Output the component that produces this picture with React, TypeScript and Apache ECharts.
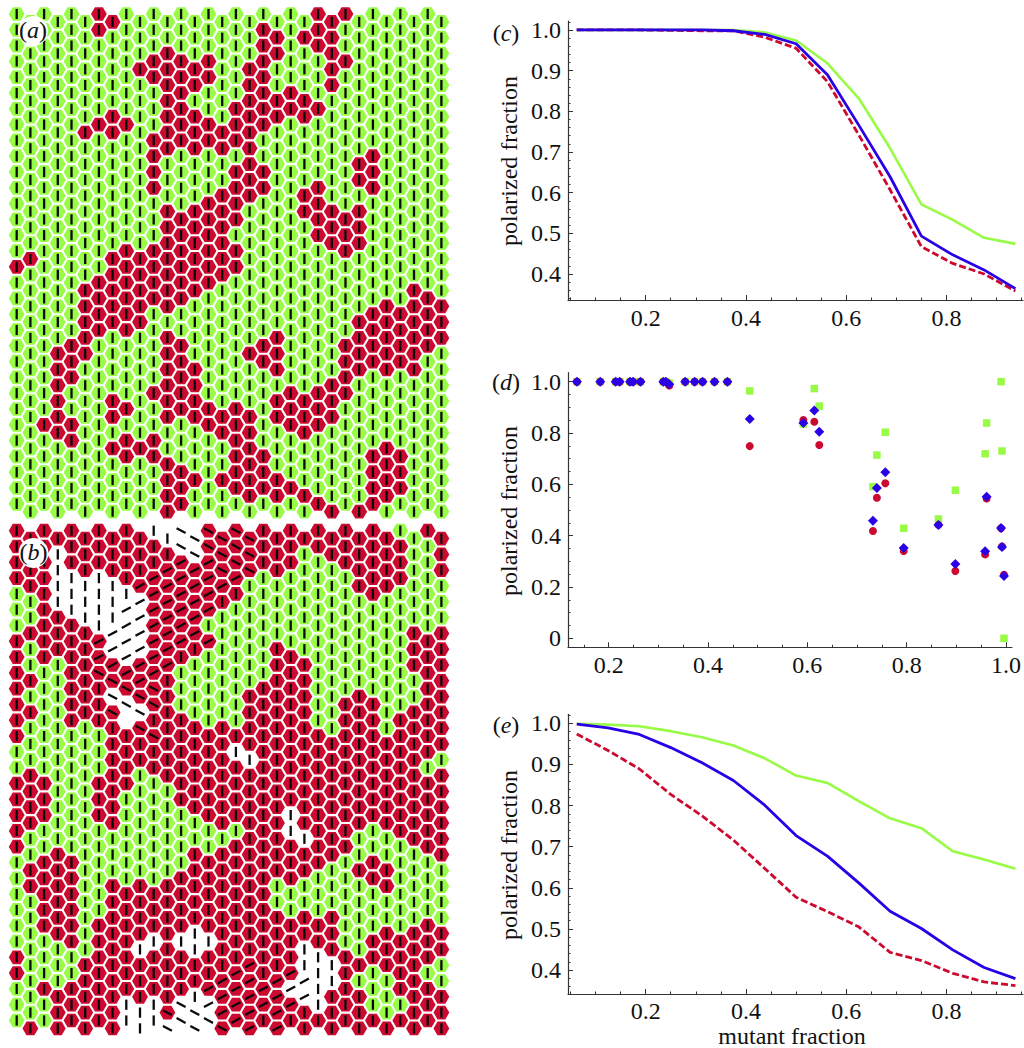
import React, { useEffect, useRef } from "react";
import * as echarts from "echarts";

const PANEL_A_RED: number[][] = [
  [6, 7, 22, 23, 24],
  [6, 18, 19, 21, 22, 23],
  [11, 18, 19, 22, 23],
  [9, 10, 11, 12, 13, 14, 17, 18, 23, 24],
  [10, 11, 12, 13, 14, 17, 18, 23],
  [11, 12, 17, 18, 19, 20, 21],
  [7, 11, 12, 13, 16, 17, 18, 19, 20, 21, 22],
  [5, 6, 7, 8, 11, 12, 13, 14, 15, 16, 17, 18],
  [10, 11, 12, 13, 14, 15, 16, 17],
  [10, 17, 25, 26],
  [10, 16, 17, 18, 25, 26],
  [10, 15, 16, 17, 18, 21, 22, 26],
  [11, 13, 14, 15, 16, 21, 22, 23, 25],
  [11, 12, 13, 14, 15, 16, 22, 23, 24, 25],
  [11, 12, 13, 14, 15, 22, 23, 24, 25],
  [1, 7, 8, 9, 10, 11, 12, 13, 14, 15, 16, 24],
  [0, 7, 8, 9, 10, 11, 12, 13, 14, 15, 16],
  [5, 6, 7, 8, 9, 10, 11, 12, 13, 14, 29],
  [5, 6, 7, 8, 9, 10, 11, 12, 27, 29, 30, 31],
  [5, 6, 7, 8, 9, 25, 26, 27, 28, 29, 30, 31],
  [5, 6, 8, 11, 19, 25, 26, 27, 28, 29, 30, 31],
  [3, 4, 5, 11, 12, 17, 18, 19, 24, 25, 26, 27, 28, 29, 30],
  [3, 4, 11, 12, 13, 18, 19, 24, 25, 26, 27, 28, 29],
  [3, 4, 11, 12, 13, 23, 24],
  [3, 7, 10, 11, 12, 13, 19, 20, 21, 22, 23, 24],
  [3, 7, 8, 11, 12, 13, 14, 15, 16, 17, 19, 20, 21, 22, 23],
  [2, 3, 4, 14, 15, 16, 17, 20, 21, 22],
  [4, 7, 8, 9, 10, 16, 17, 27],
  [8, 10, 11, 16, 17, 18, 26, 27, 28],
  [11, 12, 13, 15, 16, 17, 18, 19, 26, 27, 28],
  [11, 12, 16, 17, 18, 19, 20, 21, 26, 27, 28],
  [11, 12, 22, 23, 25, 26],
];

// g green, r red, w removed; a / b red with tilted bar; A / B removed with tilted bar
const PANEL_B_ROWS: string[] = [
  "rrrrrrrrrrwwBBbbbbrrrrrrrrrrggrr",
  "rrrwrrrrrrrrBBbbbbrrrgrrrrrrrggr",
  "rrrwrrrrrrraaaabbbrrrgggrrrrrggr",
  "rrrwwwwwraaaaaaaaggggggggrrrrggg",
  "ggrwwwwwwAaaaaarrgggggggggrggggg",
  "ggrrwwwwAAaaaaaggggggggggggggggg",
  "grrrrrwAAAaaaaggggggggggggggg" + "rgr",
  "rgrrrraAAAaaaraggggrgggggggggrrr",
  "rgrgrraaAaaarggggggrrrgggggggrrr",
  "rrggrrbbaaargggggggrrrggggggggrr",
  "rgggrrrBbbbrgggggrrrrrgggrggggrr",
  "rrggrrrbBBbrgggggrrrrrggrrrggrrr",
  "rgggrgrr.brrrrgrgrrrrrggrrrgrrrr",
  "rggggggrrrb" + "rrrrrrrrrrrrrrrrrrrrr",
  "gggggggrrrrrrrrrwwrrrrrrrrrrrrrg",
  "grgggggrrgrrrrrrrrrrrrrrrrrrrrgr",
  "rrrgggrrrgggrrrr" + "rrrrrrrrrrrrrrrr",
  "rrrgggrrggggrrrr" + "rrrrrrrrrrrrrrrr",
  "rrrgggrrggggggrr" + "rrrr" + "w" + "rrrrrrrrrrr",
  "rggggggggggggggggrrrwwrrrgggrrrr",
  "rggr" + "ggggggggg" + "rg" + "rrrrrrrrrr" + "ggggg" + "rr",
  "grrrr" + "gggggggg" + "rrrrrrrrrr" + "gg" + "rrr" + "gggg",
  "grrrrggrgrgrrrrrrrrgrgggggrrgggg",
  "ggrrrgg" + "rrrrrrrrrrrr" + "ggggggggggggg",
  "ggrrrgg" + "rrrrrrrrrrrrr" + "grgr" + "gggggggg",
  "ggrrrg" + "rrrrrrr" + "w" + "rrrrrrrrrr" + "ggg" + "rg" + "rrr",
  "ggggrgrrrwwrwwwr" + "rrrrr" + "w" + "rr" + "gg" + "rrrrrr",
  "rggggrr" + "rrrrrrrrrr" + "a" + "rrr" + "www" + "rrrrrrr" + "g",
  "rggggrr" + "rrrrrrrr" + "aaa" + "r" + "aa" + "A" + "ww" + "r" + "ggg" + "rr" + "gg",
  "gg" + "rrrrrrrrrrr" + "w" + "aaaaaa" + "AA" + "w" + "rrr" + "gg" + "rrrr",
  "ggg" + "rrrrr" + "www" + "b" + "BB" + "A" + "aaaaaa" + "r" + "w" + "rrr" + "ggg" + "rrr",
  "grgrrrrr" + "www" + "BBBB" + "b" + "aa" + "r" + "a" + "rrrrrrrrrrrr",
];

const FRACTIONS = [0.0625, 0.125, 0.1875, 0.25, 0.3125, 0.375, 0.4375, 0.5, 0.5625, 0.625, 0.6875, 0.75, 0.8125, 0.875, 0.9375];

const C_GREEN = [1, 1, 1, 1, 1, 1, 0.994, 0.974, 0.918, 0.832, 0.709, 0.571, 0.533, 0.489, 0.474];
const C_BLUE = [1, 1, 1, 1, 1, 0.998, 0.989, 0.966, 0.89, 0.766, 0.639, 0.493, 0.447, 0.41, 0.364];
const C_RED = [1, 1, 1, 0.999, 0.998, 0.998, 0.982, 0.955, 0.873, 0.742, 0.607, 0.467, 0.426, 0.4, 0.358];

const E_GREEN = [0.999, 0.997, 0.993, 0.981, 0.966, 0.946, 0.915, 0.873, 0.855, 0.811, 0.769, 0.745, 0.689, 0.669, 0.646];
const E_BLUE = [0.998, 0.989, 0.973, 0.941, 0.904, 0.861, 0.801, 0.727, 0.677, 0.612, 0.543, 0.501, 0.449, 0.406, 0.379];
const E_RED = [0.974, 0.934, 0.889, 0.827, 0.775, 0.716, 0.647, 0.577, 0.542, 0.505, 0.443, 0.423, 0.392, 0.371, 0.362];

const D_X = [0.136, 0.183, 0.214, 0.222, 0.243, 0.249, 0.264, 0.31, 0.315, 0.322, 0.354, 0.373, 0.389, 0.413, 0.439, 0.484, 0.592, 0.614, 0.624, 0.732, 0.74, 0.757, 0.794, 0.864, 0.898, 0.958, 0.961, 0.99, 0.992, 0.996];
const D_GREEN = [1, 1, 1, 1, 1, 1, 1, 1, 1, 0.995, 1, 1, 1, 1, 1, 0.964, 0.835, 0.973, 0.905, 0.591, 0.714, 0.803, 0.429, 0.465, 0.577, 0.719, 0.839, 1, 0.73, 0];
const D_RED = [1, 1, 1, 1, 1, 1, 1, 1, 1, 0.985, 1, 1, 1, 1, 1, 0.749, 0.851, 0.844, 0.753, 0.418, 0.548, 0.604, 0.34, 0.442, 0.262, 0.327, 0.545, 0.429, 0.358, 0.248];
const D_BLUE = [1, 1, 1, 1, 1, 1, 1, 1, 1, 0.99, 1, 1, 1, 1, 1, 0.855, 0.839, 0.888, 0.805, 0.458, 0.586, 0.647, 0.352, 0.442, 0.29, 0.339, 0.552, 0.43, 0.356, 0.243];

const X_TICKS_LINE = [0.2, 0.4, 0.6, 0.8];
const X_MINOR_LINE = [0.05, 0.1, 0.15, 0.25, 0.3, 0.35, 0.45, 0.5, 0.55, 0.65, 0.7, 0.75, 0.85, 0.9, 0.95];
const Y_TICKS_LINE = [0.4, 0.5, 0.6, 0.7, 0.8, 0.9, 1.0];
const Y_MINOR_LINE = [0.34, 0.36, 0.38, 0.42, 0.44, 0.46, 0.48, 0.52, 0.54, 0.56, 0.58, 0.62, 0.64, 0.66, 0.68, 0.72, 0.74, 0.76, 0.78, 0.82, 0.84, 0.86, 0.88, 0.92, 0.94, 0.96, 0.98, 1.02];
const X_TICKS_D = [0.2, 0.4, 0.6, 0.8, 1.0];
const X_MINOR_D = [0.15, 0.25, 0.3, 0.35, 0.45, 0.5, 0.55, 0.65, 0.7, 0.75, 0.85, 0.9, 0.95];
const Y_TICKS_D = [0, 0.2, 0.4, 0.6, 0.8, 1.0];
const Y_MINOR_D = [0.05, 0.1, 0.15, 0.25, 0.3, 0.35, 0.45, 0.5, 0.55, 0.65, 0.7, 0.75, 0.85, 0.9, 0.95];

const GREEN = "#98fb46";
const RED = "#cc0a30";
const BLUE = "#2a00e6";
const SERIF = "'Liberation Serif'";
const INK = "#111";
const FONT = 24;

const CELL_R = 7.9;
const BAR_LEN = 10.2;
const TILT = (28 * Math.PI) / 180;

function hexRender(_params: any, api: any) {
  const [cx, cy] = api.coord([api.value(0), api.value(1)]);
  const kind = api.value(2); // 0 green, 1 red, 2 removed
  const tilt = api.value(3); // 0 vertical, 1 "/", 2 "\"
  const hasBar = api.value(4);
  const h = (CELL_R * Math.sqrt(3)) / 2;
  const children: any[] = [];
  if (kind !== 2) {
    children.push({
      type: "polygon",
      shape: {
        points: [
          [cx - CELL_R, cy],
          [cx - CELL_R / 2, cy - h],
          [cx + CELL_R / 2, cy - h],
          [cx + CELL_R, cy],
          [cx + CELL_R / 2, cy + h],
          [cx - CELL_R / 2, cy + h],
        ],
      },
      style: { fill: kind === 0 ? GREEN : RED },
    });
  }
  if (hasBar) {
    let dx = 0;
    let dy = BAR_LEN / 2;
    if (tilt === 1) {
      dx = (BAR_LEN / 2) * Math.cos(TILT);
      dy = -(BAR_LEN / 2) * Math.sin(TILT);
    } else if (tilt === 2) {
      dx = (BAR_LEN / 2) * Math.cos(TILT);
      dy = (BAR_LEN / 2) * Math.sin(TILT);
    }
    children.push({
      type: "line",
      shape: { x1: cx - dx, y1: cy - dy, x2: cx + dx, y2: cy + dy },
      style: { stroke: "#0a0a0a", lineWidth: 2.3 },
    });
  }
  return { type: "group", children };
}

function cellsA() {
  const out: number[][] = [];
  for (let r = 0; r < 32; r++) {
    for (let c = 0; c < 32; c++) {
      out.push([c, r + (c % 2 ? 0.5 : 0), PANEL_A_RED[r].includes(c) ? 1 : 0, 0, 1]);
    }
  }
  return out;
}

function cellsB() {
  const out: number[][] = [];
  PANEL_B_ROWS.forEach((row, r) => {
    for (let c = 0; c < 32; c++) {
      const ch = row[c] || "g";
      const kind = ch === "g" ? 0 : ch === "r" || ch === "a" || ch === "b" ? 1 : 2;
      const tilt = ch === "a" || ch === "A" ? 1 : ch === "b" || ch === "B" ? 2 : 0;
      out.push([c, r + (c % 2 ? 0.5 : 0), kind, tilt, ch === "." ? 0 : 1]);
    }
  });
  return out;
}

function pairs(xs: number[], ys: number[]) {
  return xs.map((x, i) => [x, ys[i]]);
}

const labelStyle = {
  fontFamily: SERIF,
  fontSize: FONT,
  color: INK,
};

function plotAxes(
  gridIndex: number,
  xr: [number, number],
  yr: [number, number],
  xMajor: number[],
  xMinor: number[],
  yMajor: number[],
  yMinor: number[],
  yLabelZero: boolean,
  xLabelMargin: number,
) {
  const xBase = { gridIndex, type: "value", position: "bottom", min: xr[0], max: xr[1], splitLine: { show: false } };
  const yBase = { gridIndex, type: "value", position: "left", min: yr[0], max: yr[1], splitLine: { show: false } };
  const axisLine = { show: true, onZero: false, lineStyle: { color: "#333", width: 1.2 } };
  const xAxis = [
    {
      ...xBase,
      axisLine,
      axisTick: { show: true, inside: true, length: 5, customValues: xMajor, lineStyle: { color: "#333" } },
      axisLabel: { ...labelStyle, show: true, margin: xLabelMargin, customValues: xMajor, formatter: (v: number) => v.toFixed(1) },
    },
    {
      ...xBase,
      axisLine: { show: false, onZero: false },
      axisTick: { show: true, inside: true, length: 2.5, customValues: xMinor, lineStyle: { color: "#333" } },
      axisLabel: { show: false },
    },
  ];
  const yAxis = [
    {
      ...yBase,
      axisLine,
      axisTick: { show: true, inside: true, length: 5, customValues: yMajor, lineStyle: { color: "#333" } },
      axisLabel: {
        ...labelStyle,
        show: true,
        margin: 7,
        customValues: yMajor,
        formatter: (v: number) => (yLabelZero && v === 0 ? "0" : v.toFixed(1)),
      },
    },
    {
      ...yBase,
      axisLine: { show: false, onZero: false },
      axisTick: { show: true, inside: true, length: 2.5, customValues: yMinor, lineStyle: { color: "#333" } },
      axisLabel: { show: false },
    },
  ];
  return { xAxis, yAxis };
}

function lineSeries(xi: number, yi: number, g: number[], b: number[], r: number[]) {
  const base = { type: "line", xAxisIndex: xi, yAxisIndex: yi, showSymbol: false, symbol: "none", silent: true };
  return [
    { ...base, data: pairs(FRACTIONS, g), lineStyle: { color: GREEN, width: 2.6 }, z: 3 },
    { ...base, data: pairs(FRACTIONS, r), lineStyle: { color: RED, width: 2.8, type: [7, 3] }, z: 4 },
    { ...base, data: pairs(FRACTIONS, b), lineStyle: { color: BLUE, width: 2.8 }, z: 5 },
  ];
}

function panelLabel(letter: string, x: number, y: number) {
  return {
    type: "text",
    x,
    y,
    z: 110,
    style: {
      text: `({i|${letter}})`,
      fontFamily: SERIF,
      fontSize: FONT,
      fill: INK,
      align: "center",
      verticalAlign: "middle",
      rich: { i: { fontFamily: SERIF, fontSize: FONT, fontStyle: "italic", fill: INK } },
    },
  };
}

function yTitle(x: number, y: number) {
  return {
    type: "text",
    x,
    y,
    rotation: Math.PI / 2,
    z: 110,
    style: {
      text: "polarized fraction",
      fontFamily: SERIF,
      fontSize: FONT,
      fill: INK,
      align: "center",
      verticalAlign: "middle",
    },
  };
}

export default function App() {
  const ref = useRef<HTMLDivElement>(null);
  useEffect(() => {
    document.body.style.margin = "0";
    const chart = echarts.init(ref.current!, null, { renderer: "svg" });
    const cAxes = plotAxes(2, [0.0451, 0.9526], [0.336, 1.022], X_TICKS_LINE, X_MINOR_LINE, Y_TICKS_LINE, Y_MINOR_LINE, false, 6);
    const dAxes = plotAxes(3, [0.118, 1.012], [-0.035, 1.035], X_TICKS_D, X_MINOR_D, Y_TICKS_D, Y_MINOR_D, true, 6);
    const eAxes = plotAxes(4, [0.0451, 0.9526], [0.3416, 1.022], X_TICKS_LINE, X_MINOR_LINE, Y_TICKS_LINE, Y_MINOR_LINE, false, 5);
    const hexAxis = (gridIndex: number) => ({
      x: { gridIndex, type: "value", min: 0, max: 31, show: false },
      y: { gridIndex, type: "value", min: 0, max: 31.5, inverse: true, show: false },
    });
    const ha = hexAxis(0);
    const hb = hexAxis(1);
    const scatterBase = { type: "scatter", xAxisIndex: 6, yAxisIndex: 6, silent: true };
    chart.setOption({
      animation: false,
      backgroundColor: "#fff",
      tooltip: { show: false },
      legend: { show: false },
      grid: [
        { left: 16.7, top: 14, width: 424.7, height: 497.7 },
        { left: 16.7, top: 530.7, width: 424.7, height: 497.7 },
        { left: 568, top: 21, width: 455, height: 279 },
        { left: 568, top: 372.7, width: 449, height: 274.6 },
        { left: 568, top: 714.3, width: 455, height: 279.7 },
      ],
      xAxis: [ha.x, hb.x, ...cAxes.xAxis, ...eAxes.xAxis, ...dAxes.xAxis],
      yAxis: [ha.y, hb.y, ...cAxes.yAxis, ...eAxes.yAxis, ...dAxes.yAxis],
      series: [
        { type: "custom", xAxisIndex: 0, yAxisIndex: 0, renderItem: hexRender, data: cellsA(), silent: true },
        { type: "custom", xAxisIndex: 1, yAxisIndex: 1, renderItem: hexRender, data: cellsB(), silent: true },
        ...lineSeries(2, 2, C_GREEN, C_BLUE, C_RED),
        ...lineSeries(4, 4, E_GREEN, E_BLUE, E_RED),
        { ...scatterBase, data: pairs(D_X, D_GREEN), symbol: "rect", symbolSize: 7.5, itemStyle: { color: GREEN, opacity: 1 }, z: 3 },
        { ...scatterBase, data: pairs(D_X, D_RED), symbol: "circle", symbolSize: 8, itemStyle: { color: RED, opacity: 1 }, z: 4 },
        { ...scatterBase, data: pairs(D_X, D_BLUE), symbol: "diamond", symbolSize: 10, itemStyle: { color: BLUE, opacity: 1 }, z: 5 },
      ],
      graphic: [
        { type: "circle", z: 100, shape: { cx: 33, cy: 31, r: 15 }, style: { fill: "#fff" } },
        { type: "circle", z: 100, shape: { cx: 33.5, cy: 553, r: 15 }, style: { fill: "#fff" } },
        panelLabel("a", 33, 30),
        panelLabel("b", 33.5, 552),
        panelLabel("c", 506, 33),
        panelLabel("d", 506, 382),
        panelLabel("e", 506, 725),
        yTitle(509, 161),
        yTitle(509, 511),
        yTitle(509, 855),
        {
          type: "text",
          x: 792,
          y: 1036,
          z: 110,
          style: {
            text: "mutant fraction",
            fontFamily: SERIF,
            fontSize: FONT,
            fill: INK,
            align: "center",
            verticalAlign: "middle",
          },
        },
      ],
    });
    return () => chart.dispose();
  }, []);
  return <div ref={ref} style={{ position: "absolute", left: 0, top: 0, width: 1024, height: 1048 }} />;
}
